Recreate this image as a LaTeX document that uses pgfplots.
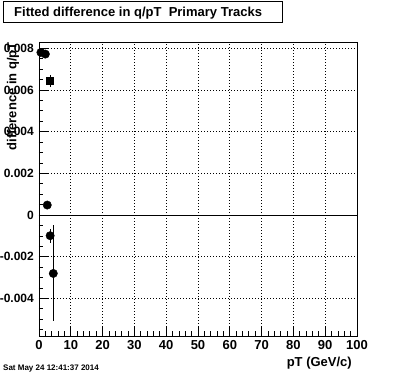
\documentclass[border=0pt]{standalone}
\usepackage{fontspec}
\setmainfont{Liberation Sans}
\usepackage{pgfplots}
\pgfplotsset{compat=1.18}
\begin{document}
\begin{tikzpicture}[x=1pt,y=1pt]
\path[use as bounding box] (0,0) rectangle (396,372);
\begin{axis}[
  at={(39pt,36pt)}, anchor=south west,
  scale only axis, width=318pt, height=294pt,
  xmin=0, xmax=100, ymin=-0.0058, ymax=0.0083,
  clip=false,
  axis line style={line width=0.9pt},
  tick pos=left, tick align=inside,
  major tick length=9pt, minor tick length=4.5pt,
  every tick/.style={black, line width=0.8pt},
  xtick={0,10,...,100}, xticklabels={0,10,20,30,40,50,60,70,80,90,100},
  minor xtick={2,4,...,98},
  ytick={-0.004,-0.002,0,0.002,0.004,0.006,0.008},
  yticklabels={-0.004,-0.002,0,0.002,0.004,0.006,0.008},
  minor ytick={-0.0055,-0.005,-0.0045,-0.0035,-0.003,-0.0025,-0.0015,-0.001,-0.0005,0.0005,0.001,0.0015,0.0025,0.003,0.0035,0.0045,0.005,0.0055,0.0065,0.007,0.0075},
  xmajorgrids, ymajorgrids,
  major grid style={black, line width=0.7pt, dash pattern=on 0.8pt off 2.2pt},
  xticklabel style={font=\fontsize{13}{15}\selectfont\bfseries, anchor=north, inner sep=0pt, yshift=-4pt},
  yticklabel style={font=\fontsize{12}{14}\selectfont\bfseries, anchor=east, inner sep=0pt, xshift=-5pt},
  scaled y ticks=false,
]
\addplot[black, line width=0.9pt, no marks] coordinates {(0,0) (100,0)};
\addplot[only marks, mark=*, mark size=4.2pt, black,
  error bars/.cd, y dir=both, y explicit, error mark=none,
  error bar style={line width=0.9pt}]
  table[x=x, y=y, y error=e] {
x y e
0.6 0.0078 0.0001
2.0 0.00772 0.0001
2.6 0.00048 0.0001
3.5 -0.00099 0.00034
4.5 -0.0028 0.0023
};
\addplot[only marks, mark=square*, mark size=3.5pt, black,
  error bars/.cd, y dir=both, y explicit, error mark=none,
  error bar style={line width=0.9pt}]
  table[x=x, y=y, y error=e] {
x y e
3.5 0.00644 0.0003
};
\end{axis}
\draw[line width=0.9pt] (3,349.3) rectangle (282,370.3);
\node[anchor=base west, inner sep=0pt, font=\fontsize{13}{15}\selectfont\bfseries] at (14,355.5) {Fitted difference in q/pT\ \ Primary Tracks};
\node[anchor=base east, inner sep=0pt, rotate=90, font=\fontsize{13}{15}\selectfont\bfseries] at (16.5,330) {difference in q/pT};
\node[anchor=base east, inner sep=0pt, font=\fontsize{13}{15}\selectfont\bfseries] at (352,5.5) {pT (GeV/c)};
\node[anchor=base west, inner sep=0pt, font=\fontsize{8}{9}\selectfont\bfseries] at (3,1.2) {Sat May 24 12:41:37 2014};
\end{tikzpicture}
\end{document}
